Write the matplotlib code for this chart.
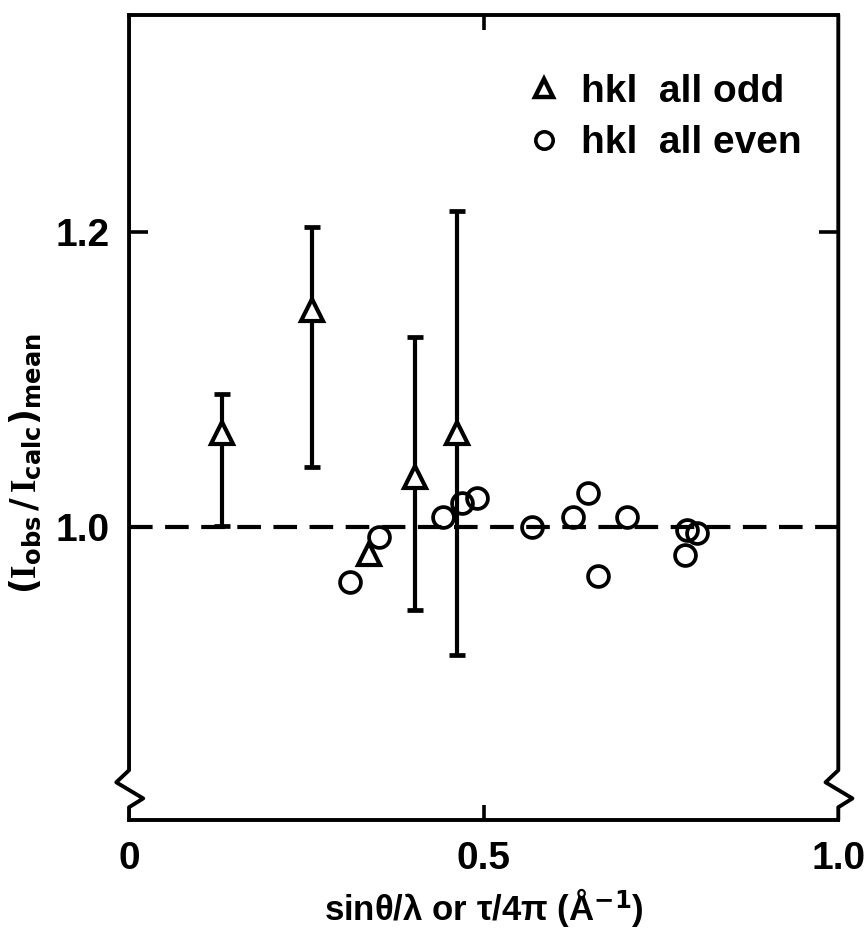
import matplotlib
matplotlib.use("Agg")
import matplotlib.pyplot as plt
from matplotlib.lines import Line2D

plt.rcParams['font.family'] = ['Liberation Sans Narrow', 'Liberation Sans', 'DejaVu Sans']
plt.rcParams['font.weight'] = 'bold'
plt.rcParams['mathtext.fontset'] = 'custom'
plt.rcParams['mathtext.rm'] = 'Liberation Sans Narrow:bold'
plt.rcParams['mathtext.it'] = 'Liberation Serif:bold'
plt.rcParams['mathtext.bf'] = 'Liberation Sans Narrow:bold'
plt.rcParams['lines.scale_dashes'] = False

# ---- data ----
# hkl all odd (triangles); first four carry error bars
odd_x = [0.131, 0.258, 0.403, 0.462, 0.338]
odd_y = [1.064, 1.147, 1.034, 1.064, 0.982]
odd_err_lower = [0.063, 0.106, 0.090, 0.151]
odd_err_upper = [0.026, 0.056, 0.095, 0.150]

# hkl all even (circles)
even_x = [0.311, 0.352, 0.442, 0.469, 0.490, 0.568, 0.626, 0.647, 0.661,
          0.702, 0.787, 0.801, 0.784]
even_y = [0.963, 0.993, 1.007, 1.016, 1.020, 1.000, 1.007, 1.023, 0.967,
          1.007, 0.998, 0.996, 0.981]

reference_level = 1.0
x_ticks = [0, 0.5, 1.0]
x_tick_labels = ['0', '0.5', '1.0']
y_ticks = [1.0, 1.2]
y_tick_labels = ['1.0', '1.2']
legend_labels = ['hkl  all odd', 'hkl  all even']

# ---- figure ----
fig = plt.figure(figsize=(8.66, 9.32), dpi=100)
ax = fig.add_axes([0.149, 0.120, 0.819, 0.864])
ax.set_xlim(0, 1.0)
ax.set_ylim(0.8014, 1.347)

ax.axhline(reference_level, color='black', lw=3.0, dashes=(17, 9), zorder=1)

n_bars = len(odd_err_lower)
ax.errorbar(odd_x[:n_bars], odd_y[:n_bars],
            yerr=[odd_err_lower, odd_err_upper], fmt='none',
            ecolor='black', elinewidth=3.0, capsize=6, capthick=3.4, zorder=2)

ax.plot(even_x, even_y, linestyle='none', marker='o', markersize=15,
        markerfacecolor='none', markeredgecolor='black', markeredgewidth=2.7,
        zorder=3)
ax.plot(odd_x, odd_y, linestyle='none', marker='^', markersize=15.5,
        markerfacecolor='white', markeredgecolor='black', markeredgewidth=3.0,
        zorder=4)

# spines: left/right drawn with a break symbol near the bottom
for side in ['left', 'right']:
    ax.spines[side].set_visible(False)
for side in ['top', 'bottom']:
    ax.spines[side].set_linewidth(2.8)

brk_y = [1.0, 0.062, 0.047, 0.027, 0.016, 0.0]
brk_dx = [0.0, 0.0, -0.018, 0.020, 0.0, 0.0]
for base in [0.0, 1.0]:
    ax.plot([base + d for d in brk_dx], brk_y, transform=ax.transAxes,
            color='black', lw=2.8, clip_on=False, solid_joinstyle='round',
            solid_capstyle='round', zorder=5)

ax.set_xticks(x_ticks)
ax.set_xticklabels(x_tick_labels)
ax.set_yticks(y_ticks)
ax.set_yticklabels(y_tick_labels)
ax.tick_params(axis='both', direction='in', width=2.6, labelsize=28,
               top=True, right=True)
ax.tick_params(axis='y', length=14, pad=14)
ax.tick_params(axis='x', length=11, pad=15)
xt = ax.xaxis.get_major_ticks()
for i in [0, len(xt) - 1]:
    xt[i].tick1line.set_visible(False)
    xt[i].tick2line.set_visible(False)

ax.set_xlabel('sinθ/λ or τ/4π (Å$^{-1}$)', fontsize=25, fontweight='bold')
ax.xaxis.set_label_coords(0.5, -0.108)
ax.xaxis.label.set_va('center')
ax.set_ylabel(r'$(\mathit{I}_{\mathrm{obs}}\,/\,\mathit{I}_{\mathrm{calc}})_{\mathrm{mean}}$',
              fontsize=25)
ax.yaxis.set_label_coords(-0.146, 0.443)
ax.yaxis.label.set_va('center')

handles = [
    Line2D([], [], linestyle='none', marker='^', markersize=12.5,
           markerfacecolor='white', markeredgecolor='black', markeredgewidth=3.2),
    Line2D([], [], linestyle='none', marker='o', markersize=12.5,
           markerfacecolor='none', markeredgecolor='black', markeredgewidth=2.6),
]
ax.legend(handles, legend_labels, loc='upper left', bbox_to_anchor=(0.558, 0.927),
          frameon=False, handlelength=1.0, handletextpad=0.45,
          labelspacing=0.4, borderpad=0, borderaxespad=0,
          prop={'weight': 'bold', 'size': 28})

fig.savefig('out.png', dpi=100)
